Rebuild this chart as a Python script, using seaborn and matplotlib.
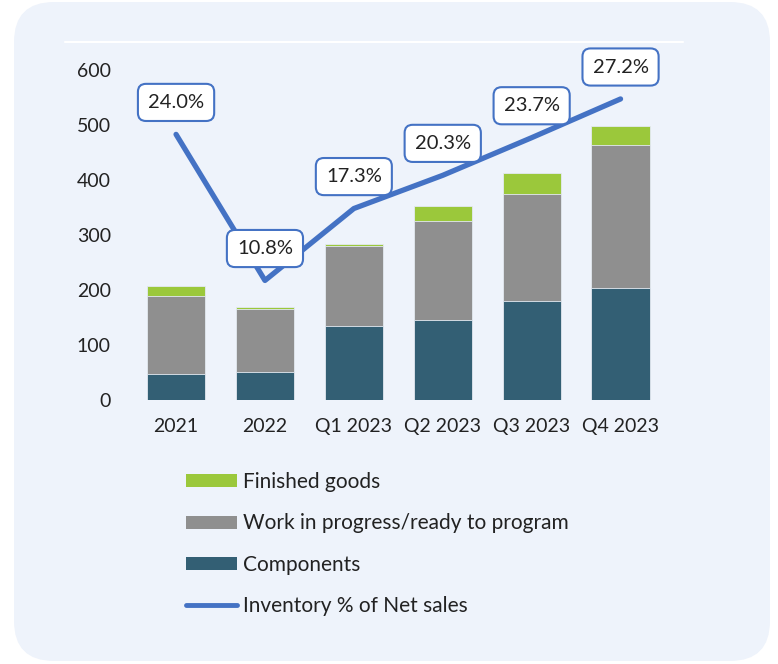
import numpy as np
import pandas as pd
import seaborn as sns
import matplotlib.pyplot as plt
from matplotlib.patches import FancyBboxPatch, Patch
from matplotlib.lines import Line2D

# chart values
categories = ["2021", "2022", "Q1 2023", "Q2 2023", "Q3 2023", "Q4 2023"]
components = [48, 51, 134, 145, 180, 204]
wip = [142, 115, 146, 181, 194, 260]
finished = [17, 3, 4, 27, 39, 35]
inventory_pct = [24.0, 10.8, 17.3, 20.3, 23.7, 27.2]

green = "#9BC83B"
gray = "#8F8F8F"
teal = "#335F74"
blue = "#4472C4"
bg = "#EEF3FB"

sns.set_style("white")
plt.rcParams["font.family"] = ["Lato", "DejaVu Sans"]

df = pd.DataFrame({"category": categories, "components": components,
                   "wip": wip, "finished": finished})
df["comp_wip"] = df["components"] + df["wip"]
df["total"] = df["comp_wip"] + df["finished"]

fig = plt.figure(figsize=(7.78, 6.64), dpi=100, facecolor="white")

# rounded light-blue card behind everything
card = FancyBboxPatch((0.14, 0.03), 7.56, 6.59,
                      boxstyle="round,pad=0,rounding_size=0.4",
                      transform=fig.dpi_scale_trans, facecolor=bg,
                      edgecolor="none", zorder=-1)
fig.add_artist(card)

ax = fig.add_axes([131.6 / 778, (664 - 400) / 664, 533.4 / 778, 357.5 / 664])
ax.set_facecolor("none")

# stacked bars: draw cumulative heights back to front
for col, c in [("total", green), ("comp_wip", gray), ("components", teal)]:
    sns.barplot(data=df, x="category", y=col, color=c, saturation=1,
                width=0.655, edgecolor="#E4EAF2", linewidth=0.6, ax=ax)

ax.set_xlim(-0.5, 5.5)
ax.set_ylim(0, 650)
ax.set_yticks([0, 100, 200, 300, 400, 500, 600])
ax.set_xlabel("")
ax.set_ylabel("")
ax.tick_params(axis="y", length=0, pad=15, labelsize=14, labelcolor="#222222")
ax.tick_params(axis="x", length=0, pad=13, labelsize=14, labelcolor="#222222")
for s in ax.spines.values():
    s.set_visible(False)

# inventory % line on secondary axis
ax2 = ax.twinx()
ax2.set_facecolor("none")
sns.lineplot(x=np.arange(len(categories)), y=inventory_pct, ax=ax2,
             color=blue, linewidth=3.8, legend=False)
for ln in ax2.lines:
    ln.set_solid_capstyle("round")
    ln.set_solid_joinstyle("round")
ax2.set_ylim(0, 32.3)
ax2.set_yticks([])
ax2.set_ylabel("")
for s in ax2.spines.values():
    s.set_visible(False)

for i, v in enumerate(inventory_pct):
    ax2.annotate(f"{v:.1f}%", xy=(i, v), xytext=(0, 23),
                 textcoords="offset points", ha="center", va="center",
                 fontsize=14.5, color="#222222",
                 bbox=dict(boxstyle="round,pad=0.5,rounding_size=0.4",
                           fc="white", ec=blue, lw=1.5))

# thin white line at the top of the plot area
fig.add_artist(Line2D([65 / 778, 683 / 778], [(664 - 42) / 664] * 2,
                      transform=fig.transFigure, color="white", lw=1.5))

handles = [Patch(facecolor=green, edgecolor="none"),
           Patch(facecolor=gray, edgecolor="none"),
           Patch(facecolor=teal, edgecolor="none"),
           Line2D([0], [0], color=blue, lw=3.5, solid_capstyle="round")]
labels = ["Finished goods", "Work in progress/ready to program",
          "Components", "Inventory % of Net sales"]
fig.legend(handles, labels, loc="upper left",
           bbox_to_anchor=(186 / 778, (664 - 472) / 664),
           frameon=False, fontsize=15, handlelength=2.45, handleheight=0.6,
           handletextpad=0.28, labelspacing=1.03, borderpad=0, borderaxespad=0,
           labelcolor="#222222")

fig.savefig("out.png", dpi=100, facecolor="white")
